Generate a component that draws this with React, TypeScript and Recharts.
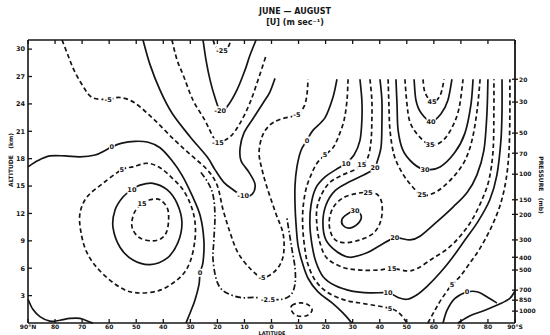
import React from "react";
import { ComposedChart, Line, Scatter, XAxis, YAxis } from "recharts";

type Pt = [number, number];

// x = latitude (°N positive), y = altitude (km)
const latTicks = [90, 80, 70, 60, 50, 40, 30, 20, 10, 0, -10, -20, -30, -40, -50, -60, -70, -80, -90];
const altTicks = [3, 6, 9, 12, 15, 18, 21, 24, 27, 30];
const pressureAlt = [26.7, 24.2, 20.8, 18.6, 16.3, 13.5, 11.9, 9.1, 7.2, 5.8, 3.6, 2.5, 1.3];
const pressureLabels = ["20", "30", "50", "70", "100", "150", "200", "300", "400", "500", "700", "850", "1000"];

// northern hemisphere / tropics
const negFiveNorth: Pt[] = [[77.4, 31], [75.2, 29.3], [73.0, 27.7], [70.0, 26.1], [66.3, 24.7], [60.4, 24.5], [56.0, 24.7], [50.5, 24.1], [43.1, 22.2], [35.7, 20.0], [29.4, 18.3], [23.8, 16.8], [20.1, 15.1], [17.9, 12.4], [15.3, 9.9], [12.4, 7.7], [8.0, 6.0], [3.5, 5.0], [-0.6, 5.5], [-3.5, 6.6], [-4.6, 8.0], [-4.2, 9.9], [-1.6, 12.0], [1.7, 14.9], [3.5, 16.8], [4.6, 18.6], [3.5, 20.4], [0.9, 21.6], [-3.1, 22.3], [-9.4, 22.8], [-12.0, 23.7], [-13.1, 25.0], [-13.5, 26.7]];
const zeroNorth: Pt[] = [[90, 17.1], [86.3, 17.8], [81.9, 18.3], [76.3, 18.3], [70.8, 18.2], [65.2, 18.4], [61.5, 18.9], [59.0, 19.3], [55.3, 19.7], [50.5, 19.9], [45.6, 19.8], [41.2, 19.2], [36.8, 17.8], [33.1, 16.2], [29.4, 14.0], [26.4, 11.8], [25.0, 9.1], [25.3, 6.7], [26.4, 5.5], [26.8, 4.2], [28.3, 2.5], [30.1, 1.1], [31.6, 0]];
const zeroNorthSurface: Pt[] = [[90, 2.6], [88.2, 1.5], [85.6, 0.7], [81.9, 0.2], [78.2, 0.3], [74.5, 0.5], [70.8, 0.5], [67.1, 0.1], [66.0, 0]];
const fiveNorth: Pt[] = [[55.3, 16.8], [51.2, 17.1], [46.0, 17.5], [41.2, 17.0], [36.8, 15.9], [32.7, 14.6], [29.8, 12.9], [28.3, 11.1], [28.3, 9.1], [30.1, 6.7], [33.8, 5.0], [41.2, 3.6], [49.7, 3.3], [56.0, 3.9], [63.4, 5.7], [68.2, 7.7], [70.4, 9.9], [70.8, 12.0], [68.2, 13.8], [62.3, 15.3], [55.3, 16.8]];
const tenNorth: Pt[] = [[51.6, 14.6], [48.6, 15.1], [43.8, 15.3], [38.6, 14.6], [34.9, 13.1], [33.1, 11.0], [34.6, 8.8], [38.6, 7.1], [44.9, 6.4], [51.2, 6.9], [56.0, 8.3], [58.6, 10.5], [57.8, 12.4], [54.9, 13.8], [51.6, 14.6]];
const fifteenNorth: Pt[] = [[47.9, 13.1], [44.9, 13.5], [41.2, 13.5], [38.3, 12.4], [38.3, 10.5], [40.1, 9.4], [43.8, 9.0], [48.6, 9.3], [51.2, 10.2], [51.6, 11.1], [50.5, 12.2], [47.9, 13.1]];
const negTen: Pt[] = [[47.5, 31], [44.9, 28.3], [41.2, 25.5], [36.8, 23.0], [30.1, 20.4], [23.8, 18.2], [20.9, 16.8], [17.6, 15.4], [14.2, 14.6], [10.5, 13.9], [7.2, 14.1], [6.1, 15.2], [8.3, 16.5], [11.3, 17.8], [11.6, 19.2], [10.2, 20.8], [6.8, 22.4], [3.1, 24.1], [0.6, 25.3], [-1.3, 26.8]];
const negFifteen: Pt[] = [[36.8, 31], [34.9, 28.8], [32.7, 27.2], [29.0, 24.4], [24.6, 22.2], [21.6, 20.4], [19.8, 19.8], [15.3, 20.4], [11.6, 21.9], [8.0, 24.1], [5.0, 26.6], [2.0, 29.3]];
const negTwenty: Pt[] = [[25.3, 31], [24.2, 28.8], [22.7, 26.6], [20.9, 24.7], [19.0, 23.3], [16.4, 23.7], [12.8, 25.5], [9.8, 27.7], [8.0, 29.3], [5.7, 31]];
const negTwentyFive: Pt[] = [[21.6, 31], [20.5, 30.2], [18.3, 29.8], [16.1, 30.2], [15.0, 31]];
const negTwoHalf: Pt[] = [[26.1, 16.5], [23.5, 15.4], [21.6, 14.0], [20.9, 11.8], [21.3, 9.1], [21.6, 6.9], [20.1, 4.5], [17.2, 3.4], [11.6, 2.8], [6.1, 2.8], [1.3, 2.6], [-3.9, 2.6], [-7.2, 3.1], [-8.7, 4.3], [-8.7, 6.0], [-7.6, 8.0], [-6.5, 10.0], [-5.7, 11.5]];
const negFiveCell: Pt[] = [[-7.5, 1.9], [-10.5, 2.2], [-13.5, 2.0], [-15.0, 1.4], [-13.0, 0.8], [-9.5, 0.8], [-7.5, 1.3], [-7.5, 1.9]];

// southern hemisphere
const zeroSouth: Pt[] = [[-24.2, 26.7], [-22.7, 24.7], [-19.8, 22.5], [-15.3, 21.1], [-13.1, 20.0], [-10.9, 18.9], [-9.4, 17.1], [-8.7, 15.1], [-8.7, 12.9], [-9.1, 10.7], [-9.8, 8.5], [-11.3, 6.7], [-13.5, 4.9], [-17.2, 3.4], [-22.4, 2.2], [-26.4, 1.1], [-29.7, 0]];
const zeroAntarctic: Pt[] = [[-63.4, 0], [-64.9, 1.4], [-67.8, 2.7], [-72.3, 3.4], [-76.3, 3.4], [-80.0, 2.8], [-83.3, 2.2]];
const fiveSouth: Pt[] = [[-28.3, 26.7], [-27.9, 24.4], [-26.8, 22.2], [-24.6, 20.3], [-22.7, 19.2], [-19.8, 18.4], [-16.8, 17.5], [-14.6, 16.2], [-12.7, 14.6], [-11.6, 12.4], [-11.6, 10.2], [-12.4, 8.0], [-13.5, 6.4], [-16.1, 4.7], [-20.5, 3.4], [-27.2, 2.5], [-34.6, 2.1], [-43.8, 1.6], [-47.5, 1.0], [-50.1, 0]];
const fivePolar: Pt[] = [[-57.8, 0], [-60.4, 1.4], [-63.0, 2.7], [-66.7, 4.2], [-69.7, 5.1], [-73.4, 6.6], [-77.1, 8.2], [-81.1, 10.4], [-84.5, 12.9], [-86.7, 15.7], [-87.8, 18.9], [-88.1, 22.8], [-88.1, 26.7]];
const tenSouth: Pt[] = [[-32.7, 26.7], [-33.4, 24.4], [-33.4, 22.2], [-32.7, 20.0], [-30.5, 18.4], [-27.5, 17.5], [-23.8, 16.8], [-19.8, 16.0], [-16.4, 14.8], [-14.6, 12.9], [-14.2, 10.7], [-15.0, 8.5], [-16.4, 6.7], [-19.0, 5.1], [-23.5, 4.1], [-29.7, 3.5], [-36.4, 3.3], [-43.1, 3.3], [-46.8, 2.8], [-50.1, 2.6], [-53.8, 3.1], [-57.8, 4.1], [-62.3, 5.5], [-66.7, 7.1], [-71.5, 9.1], [-76.3, 11.1], [-80.7, 13.5], [-83.3, 16.2], [-84.8, 20.0], [-85.2, 23.3], [-85.2, 26.7]];
const fifteenSouth: Pt[] = [[-36.4, 26.7], [-37.1, 24.4], [-37.1, 22.2], [-36.8, 20.0], [-35.7, 18.2], [-33.4, 17.3], [-30.9, 16.8], [-26.1, 16.2], [-21.6, 15.4], [-18.7, 14.2], [-16.8, 12.6], [-16.8, 10.7], [-17.9, 8.8], [-20.5, 7.1], [-26.4, 6.1], [-32.7, 5.8], [-39.4, 5.8], [-44.5, 6.0], [-50.1, 5.7], [-54.1, 6.0], [-59.7, 7.1], [-64.9, 8.1], [-69.7, 9.5], [-74.1, 11.3], [-77.8, 13.5], [-80.4, 15.7], [-81.9, 18.9], [-82.2, 23.3], [-82.2, 26.7]];
const twentySouth: Pt[] = [[-40.1, 26.7], [-40.8, 24.4], [-40.8, 21.7], [-40.5, 19.3], [-39.0, 17.6], [-38.3, 17.0], [-35.3, 16.4], [-29.0, 15.5], [-23.5, 14.5], [-20.1, 12.9], [-19.0, 11.0], [-20.1, 9.1], [-24.2, 7.8], [-29.0, 7.2], [-35.3, 7.7], [-40.1, 8.5], [-45.6, 9.3], [-51.2, 9.1], [-54.9, 9.5], [-61.2, 11.1], [-67.1, 12.7], [-72.3, 14.3], [-75.9, 16.2], [-78.5, 18.9], [-79.6, 22.8], [-80.0, 26.7]];
const twentyFiveJet: Pt[] = [[-35.7, 14.3], [-39.0, 14.1], [-40.8, 13.1], [-40.5, 11.3], [-37.9, 9.9], [-32.7, 9.1], [-26.4, 8.8], [-22.7, 9.4], [-21.3, 11.0], [-22.7, 12.6], [-26.4, 13.7], [-31.6, 14.2], [-35.7, 14.3]];
const thirtyJet: Pt[] = [[-30.9, 12.3], [-33.1, 11.8], [-32.3, 11.0], [-29.0, 10.4], [-26.4, 10.7], [-26.1, 11.4], [-27.9, 11.9], [-30.9, 12.3]];
const twentyFiveHigh: Pt[] = [[-43.1, 26.7], [-43.4, 23.9], [-43.8, 21.1], [-45.3, 18.4], [-48.2, 16.5], [-51.6, 15.1], [-55.6, 14.0], [-59.7, 14.2], [-63.4, 14.9], [-67.8, 16.2], [-71.5, 17.8], [-74.1, 20.0], [-76.0, 23.3], [-77.1, 26.7]];
const thirtyHigh: Pt[] = [[-46.0, 26.7], [-46.4, 23.9], [-46.8, 21.1], [-48.6, 18.9], [-52.3, 17.5], [-56.7, 16.8], [-62.3, 17.1], [-67.8, 18.7], [-71.5, 20.8], [-73.7, 23.9], [-74.5, 26.7]];
const thirtyFiveHigh: Pt[] = [[-49.3, 26.7], [-50.1, 23.9], [-51.2, 22.0], [-54.1, 20.6], [-58.6, 19.5], [-63.0, 19.9], [-66.7, 21.4], [-69.3, 23.5], [-70.8, 26.7]];
const fortyHigh: Pt[] = [[-52.7, 26.7], [-53.4, 24.4], [-55.3, 23.0], [-59.0, 22.1], [-62.6, 22.9], [-65.2, 24.4], [-66.7, 26.7]];
const fortyFiveHigh: Pt[] = [[-56.0, 26.7], [-56.7, 25.3], [-59.3, 24.2], [-62.3, 24.9], [-63.8, 26.7]];
const terrain: Pt[] = [[-68.9, 0], [-73.4, 0.8], [-78.9, 1.4], [-84.5, 2.1], [-88.1, 2.7], [-90, 3.5]];

// contour labels: [lat, alt, text]
const contourLabels: [number, number, string][] = [
  [60.4, 24.5, "-5"], [3.5, 5.0, "-5"], [-9.4, 22.8, "-5"],
  [59.0, 19.3, "0"], [26.4, 5.5, "0"], [-13.1, 20.0, "0"], [-72.3, 3.4, "0"],
  [55.3, 16.8, "5"], [-19.8, 18.4, "5"], [-43.8, 1.6, "5"], [-66.7, 4.2, "5"],
  [51.6, 14.6, "10"], [-27.5, 17.5, "10"], [-43.1, 3.3, "10"],
  [47.9, 13.1, "15"], [-33.4, 17.3, "15"], [-44.5, 6.0, "15"],
  [10.5, 13.9, "-10"], [19.8, 19.8, "-15"], [19.0, 23.3, "-20"], [18.3, 29.8, "-25"],
  [1.3, 2.6, "-2.5"],
  [-38.3, 17.0, "20"], [-45.6, 9.3, "20"],
  [-35.7, 14.3, "25"], [-55.6, 14.0, "25"],
  [-30.9, 12.3, "30"], [-56.7, 16.8, "30"],
  [-58.6, 19.5, "35"], [-59.0, 22.1, "40"], [-59.3, 24.2, "45"],
];

const DASH = "4.5 3";
const DASHDOT = "6 2.5 1.5 2.5";
const INK = "#151515";
const FONT = "'DejaVu Sans', sans-serif";

const contours: { pts: Pt[]; dash?: string }[] = [
  { pts: negFiveNorth, dash: DASH }, { pts: zeroNorth }, { pts: zeroNorthSurface },
  { pts: fiveNorth, dash: DASH }, { pts: tenNorth }, { pts: fifteenNorth, dash: DASH },
  { pts: negTen }, { pts: negFifteen, dash: DASH }, { pts: negTwenty }, { pts: negTwentyFive, dash: DASH },
  { pts: negTwoHalf, dash: DASHDOT }, { pts: negFiveCell, dash: DASH },
  { pts: zeroSouth }, { pts: zeroAntarctic }, { pts: fiveSouth, dash: DASH }, { pts: fivePolar, dash: DASH },
  { pts: tenSouth }, { pts: fifteenSouth, dash: DASH }, { pts: twentySouth },
  { pts: twentyFiveJet, dash: DASH }, { pts: thirtyJet },
  { pts: twentyFiveHigh, dash: DASH }, { pts: thirtyHigh }, { pts: thirtyFiveHigh, dash: DASH },
  { pts: fortyHigh }, { pts: fortyFiveHigh, dash: DASH }, { pts: terrain },
];

// catmull-rom curve so the traced contours stay smooth (closed when first == last)
const smooth = (context: any) => {
  let pts: number[][] = [];
  return {
    areaStart() {},
    areaEnd() {},
    lineStart() { pts = []; },
    point(x: number, y: number) { pts.push([+x, +y]); },
    lineEnd() {
      const n = pts.length;
      if (!n) return;
      context.moveTo(pts[0][0], pts[0][1]);
      const closed = n > 3 && Math.abs(pts[0][0] - pts[n - 1][0]) < 0.5 && Math.abs(pts[0][1] - pts[n - 1][1]) < 0.5;
      for (let i = 0; i < n - 1; i++) {
        const p0 = pts[i - 1] || (closed ? pts[n - 2] : pts[i]);
        const p1 = pts[i];
        const p2 = pts[i + 1];
        const p3 = pts[i + 2] || (closed ? pts[1] : p2);
        context.bezierCurveTo(
          p1[0] + (p2[0] - p0[0]) / 6, p1[1] + (p2[1] - p0[1]) / 6,
          p2[0] - (p3[0] - p1[0]) / 6, p2[1] - (p3[1] - p1[1]) / 6,
          p2[0], p2[1]
        );
      }
    },
  };
};

const fmtLat = (v: number) => (v === 90 ? "90°N" : v === -90 ? "90°S" : String(Math.abs(v)));
const txt = { fontSize: 6.5, fontWeight: 700, fontFamily: FONT, fill: INK } as const;

const BottomTick = ({ x, y, payload }: any) => (
  <g>
    <line x1={x} x2={x} y1={y} y2={y - 4} stroke={INK} strokeWidth={1.3} />
    <text x={x} y={y + 5.8} textAnchor="middle" {...txt} fontSize={6}>{fmtLat(payload.value)}</text>
  </g>
);
const TopTick = ({ x, y }: any) => <line x1={x} x2={x} y1={y} y2={y + 4} stroke={INK} strokeWidth={1.3} />;
const LeftTick = ({ x, y, payload }: any) => (
  <g>
    <line x1={x} x2={x + 4} y1={y} y2={y} stroke={INK} strokeWidth={1.3} />
    <text x={x - 3} y={y + 2.3} textAnchor="end" {...txt}>{payload.value}</text>
  </g>
);
const RightTick = ({ x, y, payload }: any) => {
  let i = 0;
  pressureAlt.forEach((a, k) => { if (Math.abs(a - payload.value) < Math.abs(pressureAlt[i] - payload.value)) i = k; });
  return (
    <g>
      <line x1={x - 3} x2={x + 3} y1={y} y2={y} stroke={INK} strokeWidth={1.3} />
      <text x={x + 4} y={y + 2.3} textAnchor="start" {...txt} fontSize={6}>{pressureLabels[i]}</text>
    </g>
  );
};

const LabelShape = (props: any) => {
  const { cx, cy, payload } = props;
  const w = payload.t.length * 3.7 + 2;
  return (
    <g>
      <rect x={cx - w / 2} y={cy - 4} width={w} height={8} fill="#fff" />
      <text x={cx} y={cy + 2.3} textAnchor="middle" {...txt}>{payload.t}</text>
    </g>
  );
};

const labelData = contourLabels.map(([x, y, t]) => ({ x, y, t }));
// invisible anchors so the top and right axes get registered series
const frameAnchor = [{ x: -90, y: 0 }, { x: 90, y: 31 }];

export default function App() {
  return (
    <div style={{ position: "absolute", left: 0, top: 0, width: 550, height: 335, background: "#fff", fontFamily: FONT, color: INK }}>
      <ComposedChart width={550} height={335} margin={{ top: 39, right: 0, bottom: 0, left: 8 }}>
        <XAxis xAxisId="b" dataKey="x" type="number" domain={[-90, 90]} reversed ticks={latTicks} interval={0}
          tickSize={0} tickMargin={0} height={12} axisLine={{ stroke: INK, strokeWidth: 1.6 }} tick={<BottomTick />} />
        <XAxis xAxisId="t" orientation="top" dataKey="x" type="number" domain={[-90, 90]} reversed ticks={latTicks} interval={0}
          tickSize={0} tickMargin={0} height={1} axisLine={{ stroke: INK, strokeWidth: 1.6 }} tick={<TopTick />} />
        <YAxis yAxisId="a" dataKey="y" type="number" domain={[0, 31]} ticks={altTicks} interval={0} width={20}
          tickSize={0} tickMargin={0} axisLine={{ stroke: INK, strokeWidth: 1.6 }} tick={<LeftTick />} />
        <YAxis yAxisId="p" orientation="right" dataKey="y" type="number" domain={[0, 31]} ticks={pressureAlt} interval={0} width={35}
          tickSize={0} tickMargin={0} axisLine={{ stroke: INK, strokeWidth: 1.8 }} tick={<RightTick />} />
        <Line xAxisId="t" yAxisId="p" data={frameAnchor} dataKey="y" stroke="none" dot={false} activeDot={false}
          isAnimationActive={false} />
        {contours.map((c, i) => (
          <Line key={i} xAxisId="b" yAxisId="a" data={c.pts.map(([x, y]) => ({ x, y }))} dataKey="y"
            type={smooth as any} stroke={INK} strokeWidth={1.7} strokeDasharray={c.dash} dot={false}
            activeDot={false} isAnimationActive={false} />
        ))}
        <Scatter xAxisId="b" yAxisId="a" data={labelData} dataKey="y" shape={<LabelShape />} isAnimationActive={false} />
      </ComposedChart>
      <div style={{ position: "absolute", left: 240, width: 110, top: 6, textAlign: "center", fontSize: 8, fontWeight: 700, lineHeight: "11px" }}>
        JUNE — AUGUST<br />[U] (m sec⁻¹)
      </div>
      <div style={{ position: "absolute", left: 10, top: 160, fontSize: 6, fontWeight: 700, whiteSpace: "nowrap", transform: "translate(-50%, -50%) rotate(-90deg)" }}>
        ALTITUDE&nbsp;&nbsp;&nbsp;(km)
      </div>
      <div style={{ position: "absolute", left: 541, top: 185, fontSize: 6, fontWeight: 700, whiteSpace: "nowrap", transform: "translate(-50%, -50%) rotate(90deg)" }}>
        PRESSURE&nbsp;&nbsp;&nbsp;(mb)
      </div>
      <div style={{ position: "absolute", left: 272, top: 330.6, fontSize: 5, lineHeight: "5px", fontWeight: 700, transform: "translateX(-50%)" }}>
        LATITUDE
      </div>
    </div>
  );
}
